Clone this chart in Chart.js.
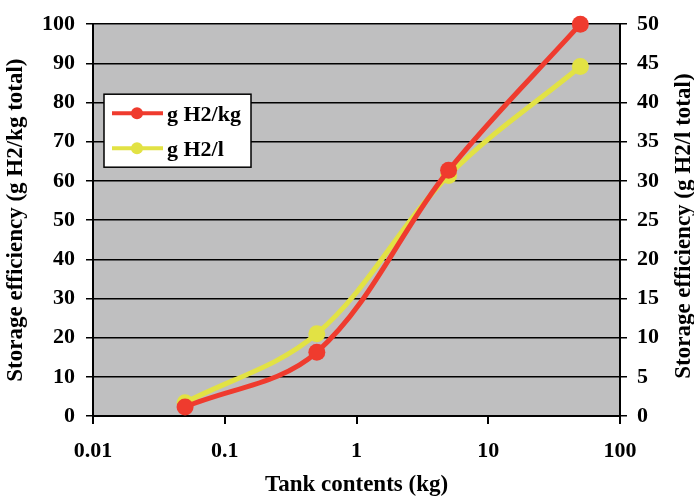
<!DOCTYPE html>
<html>
<head>
<meta charset="utf-8">
<script src="https://cdn.jsdelivr.net/npm/chart.js@4.4.0/dist/chart.umd.min.js"></script>
<style>
  html, body { margin: 0; padding: 0; background: #fff; }
  #wrap { width: 694px; height: 499px; position: relative; }
</style>
</head>
<body>
<div id="wrap"><canvas id="storageChart" width="694" height="499"></canvas></div>
<script>
// 数据
const tankContents = [0.05, 0.5, 5, 50];
const h2PerKg = [2.3, 16.3, 62.7, 100];
const h2PerL = [1.7, 10.5, 30.7, 44.6];
const xTickValues = [0.01, 0.1, 1, 10, 100];

const RED = '#EF3B2E';
const YELLOW = '#E2E244';
const FONT = '"Liberation Serif", "Times New Roman", serif';

Chart.defaults.font.family = FONT;
Chart.defaults.font.weight = 'bold';
Chart.defaults.color = '#000';

function toPoints(ys) {
    return tankContents.map((x, i) => ({ x: x, y: ys[i] }));
}

// 绘图区灰色背景
const plotBackground = {
    id: 'plotBackground',
    beforeDraw(chart) {
        const { ctx, chartArea: a } = chart;
        ctx.save();
        ctx.fillStyle = '#BFBFC0';
        ctx.fillRect(a.left, a.top, a.right - a.left, a.bottom - a.top);
        ctx.restore();
    }
};

// 图例 + 右侧轴标题
const extras = {
    id: 'extras',
    afterDraw(chart) {
        const { ctx, chartArea: a } = chart;
        ctx.save();
        // legend box
        const bx = a.left + 11, by = a.top + 70, bw = 147, bh = 73;
        ctx.fillStyle = '#fff';
        ctx.fillRect(bx, by, bw, bh);
        ctx.strokeStyle = '#000';
        ctx.lineWidth = 1.5;
        ctx.strokeRect(bx, by, bw, bh);
        chart.data.datasets.forEach((ds, i) => {
            const y = by + 19 + i * 35;
            ctx.strokeStyle = ds.borderColor;
            ctx.lineWidth = 4;
            ctx.beginPath();
            ctx.moveTo(bx + 8, y);
            ctx.lineTo(bx + 59, y);
            ctx.stroke();
            ctx.fillStyle = ds.borderColor;
            ctx.beginPath();
            ctx.arc(bx + 33, y, 6, 0, Math.PI * 2);
            ctx.fill();
            ctx.fillStyle = '#000';
            ctx.font = 'bold 22px ' + FONT;
            ctx.textBaseline = 'middle';
            ctx.textAlign = 'left';
            ctx.fillText(ds.label, bx + 63, y + 2);
        });
        // right axis title, reading bottom to top
        ctx.translate(684, (a.top + a.bottom) / 2 + 6);
        ctx.rotate(-Math.PI / 2);
        ctx.font = 'bold 23px ' + FONT;
        ctx.textAlign = 'center';
        ctx.textBaseline = 'middle';
        ctx.fillText('Storage efficiency (g H2/l total)', 0, 0);
        ctx.restore();
    }
};

new Chart(document.getElementById('storageChart'), {
    type: 'scatter',
    data: {
        datasets: [
            {
                label: 'g H2/kg',
                data: toPoints(h2PerKg),
                yAxisID: 'y',
                showLine: true,
                borderColor: RED,
                backgroundColor: RED,
                borderWidth: 5,
                pointRadius: 8.5,
                pointBorderWidth: 0,
                tension: 0.35,
                clip: false
            },
            {
                label: 'g H2/l',
                data: toPoints(h2PerL),
                yAxisID: 'y2',
                showLine: true,
                borderColor: YELLOW,
                backgroundColor: YELLOW,
                borderWidth: 5,
                pointRadius: 8.5,
                pointBorderWidth: 0,
                tension: 0.35,
                clip: false
            }
        ]
    },
    options: {
        responsive: false,
        animation: false,
        events: [],
        layout: { padding: { top: 18, left: 0, right: 0, bottom: 0 } },
        plugins: {
            legend: { display: false },
            tooltip: { enabled: false }
        },
        scales: {
            x: {
                type: 'logarithmic',
                position: 'bottom',
                min: 0.01,
                max: 100,
                afterBuildTicks(scale) {
                    scale.ticks = xTickValues.map(v => ({ value: v }));
                },
                afterFit(scale) { scale.height = 83; },
                ticks: {
                    font: { size: 22 },
                    padding: 14,
                    autoSkip: false,
                    maxRotation: 0,
                    callback: v => String(v)
                },
                grid: { drawOnChartArea: false, color: '#000', lineWidth: 2, tickLength: 8 },
                border: { color: '#000', width: 2 },
                title: {
                    display: true,
                    text: 'Tank contents (kg)',
                    font: { size: 23 },
                    padding: { top: 0, bottom: 0 }
                }
            },
            y: {
                position: 'left',
                min: 0,
                max: 100,
                afterFit(scale) { scale.width = 93; },
                ticks: { stepSize: 10, font: { size: 22 }, padding: 11 },
                grid: { color: '#000', lineWidth: 1.5, tickLength: 7 },
                border: { color: '#000', width: 2 },
                title: {
                    display: true,
                    text: 'Storage efficiency (g H2/kg total)',
                    font: { size: 23 },
                    padding: { top: 2, bottom: 0 }
                }
            },
            y2: {
                position: 'right',
                min: 0,
                max: 50,
                afterFit(scale) { scale.width = 74; },
                ticks: { stepSize: 5, font: { size: 22 }, padding: 10 },
                grid: { drawOnChartArea: false, color: '#000', lineWidth: 1.5, tickLength: 7 },
                border: { color: '#000', width: 2 }
            }
        }
    },
    plugins: [plotBackground, extras]
});
</script>
</body>
</html>
